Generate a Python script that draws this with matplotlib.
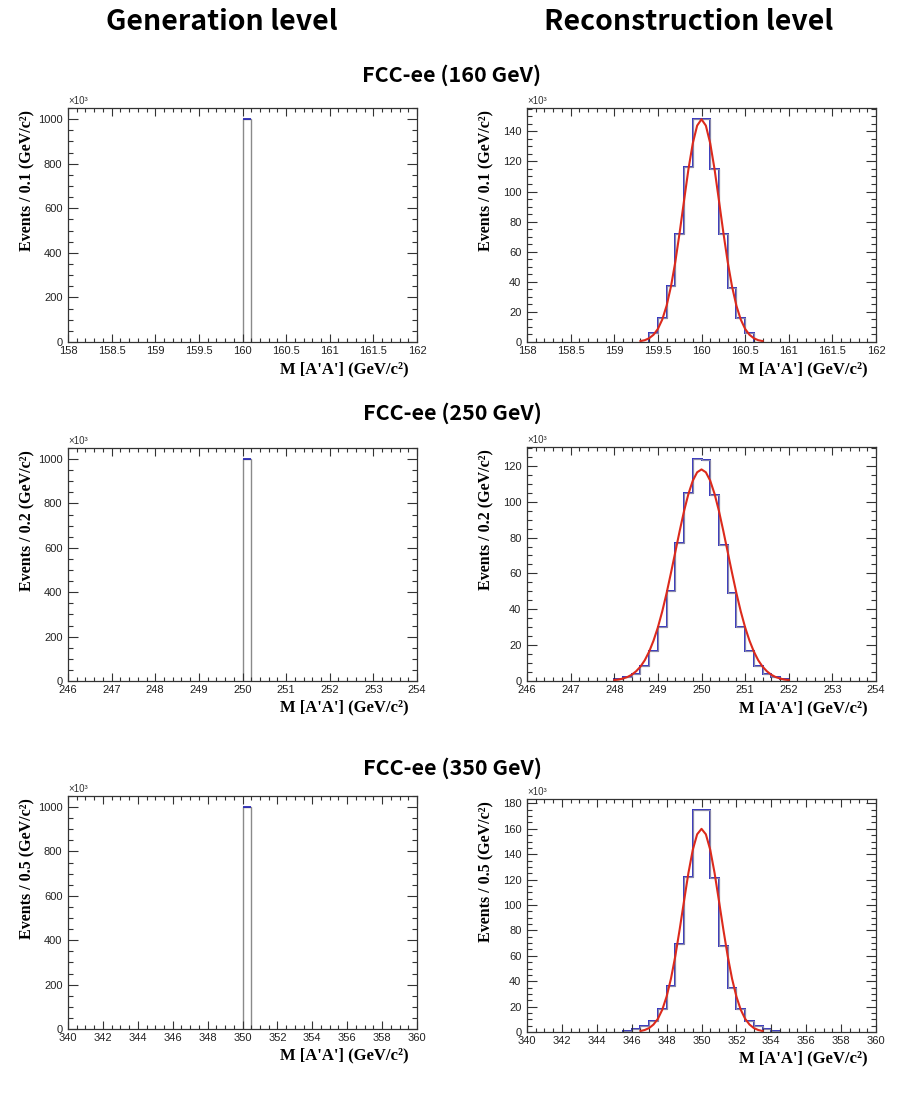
import numpy as np
import matplotlib
matplotlib.use('Agg')
import matplotlib.pyplot as plt
from matplotlib.ticker import MultipleLocator, FuncFormatter

# Dati (eventi in unita' di 10^3)

energies = ['160', '250', '350']
bin_widths = [0.1, 0.2, 0.5]
x_ranges = [(158, 162), (246, 254), (340, 360)]
x_major = [0.5, 1, 2]
x_minor = [0.1, 0.2, 0.5]

# Generation level: un solo bin pieno
gen_bin_lo = [160.0, 250.0, 350.0]
gen_counts = [1000, 1000, 1000]

# Reconstruction level: istogrammi
rec160_lo = 159.4
rec160 = [6, 16, 37, 72, 116, 148, 148, 115, 72, 36, 16, 6]

rec250_lo = 248.0
rec250 = [1, 2, 4, 8.5, 17, 30, 50, 77, 105, 124, 123, 104, 76, 49, 30, 17, 8.5, 4, 2, 1]

rec350_lo = 345.5
rec350 = [1, 2.5, 5, 9, 18, 36, 69, 122, 175, 175, 121, 68, 35, 18, 9, 5, 2.5, 1]

fit160_x = np.linspace(159.3, 160.7, 29)
fit160_y = [0.6, 1.2, 2.5, 4.8, 8.7, 14.9, 24.1, 36.9, 53.3, 72.9, 94.0, 114.7, 132.0, 143.8, 148.0,
            143.8, 132.0, 114.7, 94.0, 72.9, 53.3, 36.9, 24.1, 14.9, 8.7, 4.8, 2.5, 1.2, 0.6]

fit250_x = np.linspace(248.0, 252.0, 41)
fit250_y = [0.5, 0.8, 1.4, 2.2, 3.5, 5.4, 8.0, 11.6, 16.4, 22.5, 29.9, 38.8, 49.0, 60.3, 72.0, 83.7,
            94.8, 104.3, 111.7, 116.4, 118.0, 116.4, 111.7, 104.3, 94.8, 83.7, 72.0, 60.3, 49.0,
            38.8, 29.9, 22.5, 16.4, 11.6, 8.0, 5.4, 3.5, 2.2, 1.4, 0.8, 0.5]

fit350_x = np.linspace(346.5, 353.5, 29)
fit350_y = [0.75, 1.6, 3.1, 5.9, 10.4, 17.5, 27.9, 42.0, 59.9, 80.9, 103.3, 125.2, 143.5, 155.7, 160.0,
            155.7, 143.5, 125.2, 103.3, 80.9, 59.9, 42.0, 27.9, 17.5, 10.4, 5.9, 3.1, 1.6, 0.75]

rec_lo = [rec160_lo, rec250_lo, rec350_lo]
rec_vals = [rec160, rec250, rec350]
fit_x = [fit160_x, fit250_x, fit350_x]
fit_y = [fit160_y, fit250_y, fit350_y]

gen_ymax = 1050
rec_ymax = [155.5, 130.5, 183.5]

# Stile

title_font = ['Noto Sans CJK KR', 'DejaVu Sans']
label_font = 'Liberation Serif'
tick_font = 'Liberation Sans'
frame_col = '#333333'

fig = plt.figure(figsize=(9.05, 11), dpi=100)
W, H = 905.0, 1100.0

def make_axes(left, top, right, bottom):
    return fig.add_axes([left / W, 1 - bottom / H, (right - left) / W, (bottom - top) / H])

def style_axes(ax, xr, xmaj, xmin, ymax, ymaj, ymin, ylab):
    ax.set_xlim(*xr)
    ax.set_ylim(0, ymax)
    ax.xaxis.set_major_locator(MultipleLocator(xmaj))
    ax.xaxis.set_minor_locator(MultipleLocator(xmin))
    ax.yaxis.set_major_locator(MultipleLocator(ymaj))
    ax.yaxis.set_minor_locator(MultipleLocator(ymin))
    fmt = FuncFormatter(lambda v, p: '%g' % round(v, 3))
    ax.xaxis.set_major_formatter(fmt)
    ax.yaxis.set_major_formatter(fmt)
    ax.tick_params(which='both', direction='in', top=True, right=True, colors=frame_col,
                   labelsize=8, width=0.8)
    ax.tick_params(axis='y', which='major', length=7, pad=4)
    ax.tick_params(axis='y', which='minor', length=3.5)
    ax.tick_params(axis='x', which='major', length=6, pad=3)
    ax.tick_params(axis='x', which='minor', length=3)
    for lab in ax.get_xticklabels() + ax.get_yticklabels():
        lab.set_fontfamily(tick_font)
        lab.set_color('#222222')
    for sp in ax.spines.values():
        sp.set_color(frame_col)
        sp.set_linewidth(0.9)
    ax.text(0.0, 1.008, '×10³', transform=ax.transAxes, ha='left', va='bottom',
            fontsize=7, color='#333333', family=tick_font)
    ax.text(-0.115, 0.99, ylab, transform=ax.transAxes, rotation=90, ha='center', va='top',
            fontsize=11.5, fontweight='bold', family=label_font)
    ax.text(0.975, -0.115, "M [A'A'] (GeV/c²)", transform=ax.transAxes, ha='right', va='center',
            fontsize=12, fontweight='bold', family=label_font)

# Posizioni dei pannelli in pixel (left, top, right, bottom)
left_boxes = [(68, 108, 417, 342), (68, 448, 417, 681), (68, 796, 417, 1029)]
right_boxes = [(527, 108, 876, 342), (527, 447, 876, 681), (527, 799, 876, 1032)]
row_title_y = [75, 413, 768]

fig.text(222 / W, 1 - 22 / H, 'Generation level', ha='center', va='center',
         fontsize=20.5, fontweight='bold', family=title_font)
fig.text(689 / W, 1 - 22 / H, 'Reconstruction level', ha='center', va='center',
         fontsize=20.5, fontweight='bold', family=title_font)

for i in range(3):
    w = bin_widths[i]
    ylab = 'Events / %g (GeV/c²)' % w

    fig.text(452 / W, 1 - row_title_y[i] / H, 'FCC-ee (%s GeV)' % energies[i], ha='center',
             va='center', fontsize=15.5, fontweight='bold', family=title_font)

    # Generation level
    ax = make_axes(*left_boxes[i])
    lo = gen_bin_lo[i]
    ax.stairs([gen_counts[i]], [lo, lo + w], color='#8a8a8a', lw=1.0)
    ax.hlines(gen_counts[i], lo, lo + w, color='#2b2bb5', lw=1.3)
    style_axes(ax, x_ranges[i], x_major[i], x_minor[i], gen_ymax, 200, 50, ylab)

    # Reconstruction level
    ax = make_axes(*right_boxes[i])
    vals = rec_vals[i]
    edges = rec_lo[i] + w * np.arange(len(vals) + 1)
    ax.stairs(vals, edges, color='#2a2ac0', lw=1.4)
    ax.stairs(vals, edges, color='#a6a6a6', lw=1.0, alpha=0.75)
    ax.plot(fit_x[i], fit_y[i], '-', color='#dc2a1c', lw=1.5)
    style_axes(ax, x_ranges[i], x_major[i], x_minor[i], rec_ymax[i], 20, 5, ylab)

fig.savefig('out.png', dpi=100)
